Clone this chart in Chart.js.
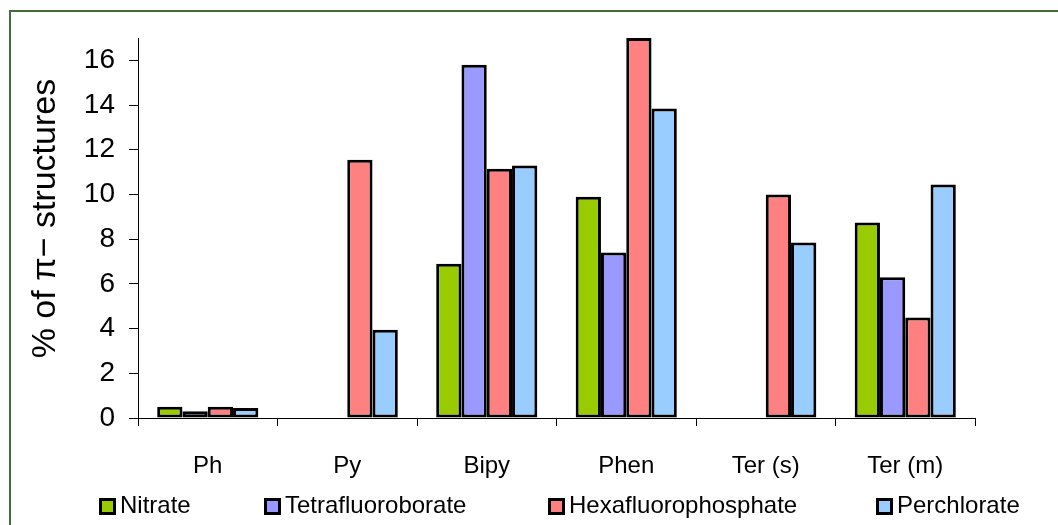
<!DOCTYPE html>
<html>
<head>
<meta charset="utf-8">
<script src="https://cdn.jsdelivr.net/npm/chart.js@4/dist/chart.umd.min.js"></script>
<style>
  html, body { margin: 0; padding: 0; background: #fff; }
  #wrap { position: relative; width: 1058px; height: 525px; overflow: hidden; }
  #frame { position: absolute; left: 9px; top: 10px; width: 1100px; height: 600px;
           border-top: 2px solid #456b3c; border-left: 2px solid #456b3c; }
  canvas { position: absolute; left: 0; top: 0; }
  .leg { position: absolute; top: 491px; font: 24px "Liberation Sans", Arial, sans-serif;
         color: #000; white-space: nowrap; line-height: 28px; }
  .leg i { display: inline-block; width: 11px; height: 11px; border: 3px solid #000;
           vertical-align: -2px; margin-right: 4px; }
</style>
</head>
<body>
<div id="wrap">
  <div id="frame"></div>
  <canvas id="chart" width="1058" height="525"></canvas>
  <div id="legend"></div>
</div>
<script>
const categories = ["Ph", "Py", "Bipy", "Phen", "Ter (s)", "Ter (m)"];
const seriesNames = ["Nitrate", "Tetrafluoroborate", "Hexafluorophosphate", "Perchlorate"];
const seriesColors = ["#99cc00", "#9999ff", "#ff8080", "#99ccff"];

const nitrate = [0.5, null, 6.9, 9.9, null, 8.75];
const tetrafluoroborate = [0.3, null, 15.8, 7.4, null, 6.3];
const hexafluorophosphate = [0.5, 11.55, 11.15, 17.0, 10.0, 4.5];
const perchlorate = [0.45, 3.95, 11.3, 13.85, 7.85, 10.45];

const seriesValues = [nitrate, tetrafluoroborate, hexafluorophosphate, perchlorate];
const legendX = [99, 264, 548, 876];

const font = "'Liberation Sans', Arial, sans-serif";

const datasets = seriesNames.map(function (name, i) {
  return {
    label: name,
    data: seriesValues[i],
    backgroundColor: seriesColors[i],
    borderColor: "#000",
    borderWidth: 3,
    borderSkipped: false,
    categoryPercentage: 0.725,
    barPercentage: 1.0
  };
});

new Chart(document.getElementById("chart").getContext("2d"), {
  type: "bar",
  data: { labels: categories, datasets: datasets },
  options: {
    responsive: false,
    animation: false,
    events: [],
    layout: { padding: { top: 38, right: 83, left: 0, bottom: 0 } },
    plugins: { legend: { display: false }, tooltip: { enabled: false } },
    scales: {
      x: {
        grid: { drawOnChartArea: false, drawTicks: true, tickLength: 8, color: "#000", offset: true },
        border: { color: "#000", width: 1 },
        ticks: { color: "#000", font: { family: font, size: 24 }, padding: 26, maxRotation: 0 },
        afterFit: function (s) { s.height = 107; }
      },
      y: {
        min: 0,
        max: 17,
        grid: { drawOnChartArea: false, drawTicks: true, tickLength: 9, color: "#000" },
        border: { color: "#000", width: 1 },
        ticks: { stepSize: 2, includeBounds: false, color: "#000", font: { family: font, size: 28 }, padding: 14 },
        title: {
          display: true,
          text: "  % of π− structures",
          color: "#000",
          font: { family: font, size: 34 },
          padding: { top: 25, bottom: 0 }
        },
        afterFit: function (s) { s.width = 138; }
      }
    }
  }
});

const legend = document.getElementById("legend");
seriesNames.forEach(function (name, i) {
  const d = document.createElement("div");
  d.className = "leg";
  d.style.left = legendX[i] + "px";
  d.innerHTML = '<i style="background:' + seriesColors[i] + '"></i>' + name;
  legend.appendChild(d);
});
</script>
</body>
</html>
